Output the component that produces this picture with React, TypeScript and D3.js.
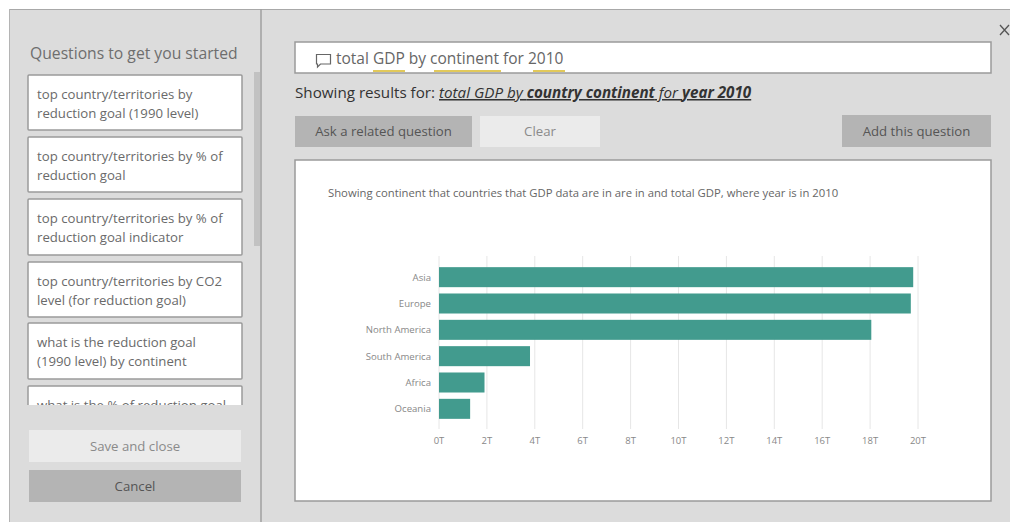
import React from "react";
import * as d3 from "d3";

const continents = ["Asia", "Europe", "North America", "South America", "Africa", "Oceania"];
const gdpTrillions = [19.8, 19.7, 18.05, 3.8, 1.9, 1.3];
const tickValues = [0, 2, 4, 6, 8, 10, 12, 14, 16, 18, 20];

const suggestedQuestions = [
  ["top country/territories by", "reduction goal (1990 level)"],
  ["top country/territories by % of", "reduction goal"],
  ["top country/territories by % of", "reduction goal indicator"],
  ["top country/territories by CO2", "level (for reduction goal)"],
  ["what is the reduction goal", "(1990 level) by continent"],
  ["what is the % of reduction goal", ""],
];
const cardTops = [75, 137, 199, 262, 323, 386];
const cardHeights = [55, 55, 56, 55, 56, 60];

const FONT = "'Open Sans', 'Noto Sans', sans-serif";
const PANEL = "#dcdcdc";
const BORDER = "#9a9a9a";

const x = d3.scaleLinear().domain([0, 20]).range([439, 918]);
const y = d3.scaleBand().domain(continents).range([264, 422]).paddingInner(0.24).paddingOuter(0.12);

const Button = ({ bx, by, w, h, fill, label, color }: any) => (
  <g>
    <rect x={bx} y={by} width={w} height={h} fill={fill} />
    <text x={bx + w / 2} y={by + h / 2 + 4.5} textAnchor="middle" fontSize={13.2} fill={color}>
      {label}
    </text>
  </g>
);

export default function App() {
  return (
    <svg
      width={1010}
      height={522}
      style={{ position: "absolute", left: 0, top: 0, background: "#fff" }}
      fontFamily={FONT}
    >
      <defs>
        <clipPath id="question-list">
          <rect x={20} y={70} width={232} height={335} />
        </clipPath>
      </defs>

      {/* dialog background and dividers */}
      <rect x={9} y={9} width={1001} height={513} fill={PANEL} />
      <line x1={9} x2={1010} y1={9.5} y2={9.5} stroke="#a8a8a8" />
      <line x1={9.5} x2={9.5} y1={9} y2={522} stroke="#b4b4b4" />
      <line x1={261} x2={261} y1={9} y2={522} stroke="#a0a0a0" strokeWidth={1.5} />

      {/* suggested questions */}
      <text x={30} y={59} fontSize={15.7} fill="#6e6e6e">Questions to get you started</text>
      <rect x={254} y={72} width={6} height={174} fill="#c2c2c2" />
      <g clipPath="url(#question-list)">
        {suggestedQuestions.map((lines, i) => (
          <g key={i}>
            <rect x={28} y={cardTops[i]} width={214} height={cardHeights[i]} fill="#fff" stroke={BORDER} strokeWidth={1.5} rx={1} />
            {lines.map((line, j) => (
              <text key={j} x={37} y={cardTops[i] + 24 + j * 18.5} fontSize={13.2} fill="#6a6a6a">{line}</text>
            ))}
          </g>
        ))}
      </g>
      <Button bx={29} by={430} w={212} h={32} fill="#ebebeb" label="Save and close" color="#8a8a8a" />
      <Button bx={29} by={470} w={212} h={32} fill="#b4b4b4" label="Cancel" color="#555" />

      {/* close glyph */}
      <path d="M1000 25 L1009 35 M1009 25 L1000 35" stroke="#555" strokeWidth={1.3} fill="none" />

      {/* question box */}
      <rect x={295} y={42} width={696} height={31} fill="#fff" stroke={BORDER} strokeWidth={1.5} />
      <path d="M316.5 54.5 h14 v9.5 h-10 l-3 3 v-3 h-1 z" fill="none" stroke="#666" strokeWidth={1.2} />
      <text x={336} y={64} fontSize={15.5} fill="#666">total GDP by continent for 2010</text>
      <rect x={373} y={70} width={32} height={2} fill="#e2c95a" />
      <rect x={434} y={70} width={67} height={2} fill="#e2c95a" />
      <rect x={533} y={70} width={32} height={2} fill="#e2c95a" />

      {/* restatement line */}
      <text x={295} y={98} fontSize={15.2} fill="#333">
        Showing results for:{" "}
        <tspan fontStyle="italic" textDecoration="underline">total GDP by </tspan>
        <tspan fontStyle="italic" fontWeight={700} textDecoration="underline">country continent</tspan>
        <tspan fontStyle="italic" textDecoration="underline"> for </tspan>
        <tspan fontStyle="italic" fontWeight={700} textDecoration="underline">year 2010</tspan>
      </text>

      <Button bx={295} by={116} w={177} h={31} fill="#b4b4b4" label="Ask a related question" color="#555" />
      <Button bx={480} by={116} w={120} h={31} fill="#ebebeb" label="Clear" color="#8a8a8a" />
      <Button bx={842} by={115} w={149} h={32} fill="#b4b4b4" label="Add this question" color="#555" />

      {/* chart card */}
      <rect x={295} y={160} width={696} height={341} fill="#fff" stroke={BORDER} strokeWidth={1.5} />
      <text x={328} y={197} fontSize={11.3} fill="#666">
        Showing continent that countries that GDP data are in are in and total GDP, where year is in 2010
      </text>

      {tickValues.map((t) => (
        <g key={t}>
          <line x1={x(t)} x2={x(t)} y1={256} y2={429} stroke="#e6e6e6" />
          <text x={x(t)} y={444} textAnchor="middle" fontSize={9.5} fill="#888">{t}T</text>
        </g>
      ))}

      {continents.map((c, i) => (
        <g key={c}>
          <rect x={x(0)} y={y(c)} width={x(gdpTrillions[i]) - x(0)} height={y.bandwidth()} fill="#429b8e" />
          <text x={431} y={(y(c) as number) + y.bandwidth() / 2 + 3.5} textAnchor="end" fontSize={9.6} fill="#888">{c}</text>
        </g>
      ))}
    </svg>
  );
}
